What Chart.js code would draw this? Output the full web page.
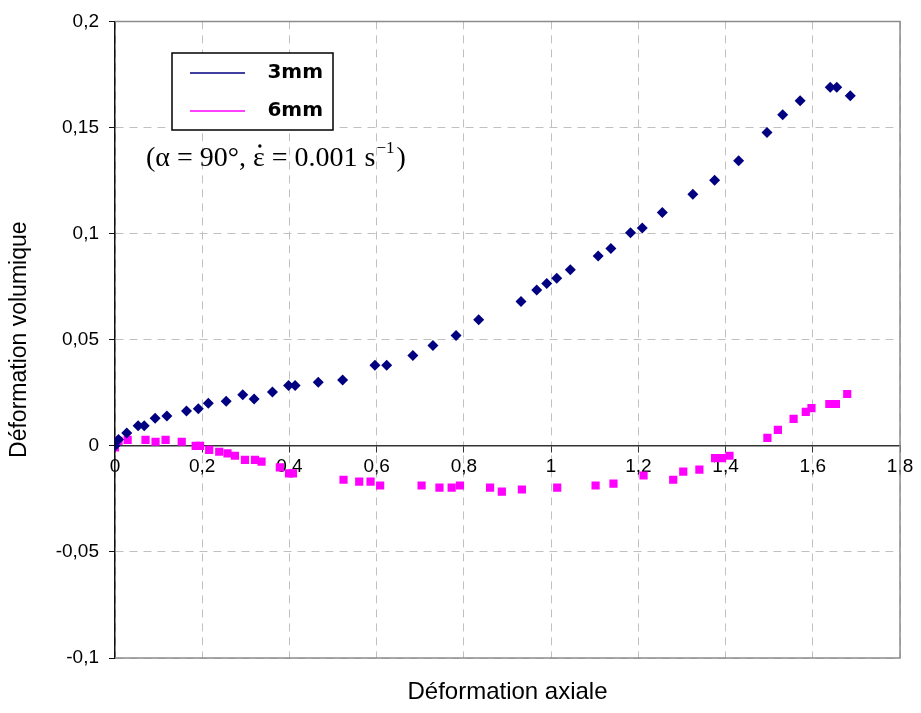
<!DOCTYPE html>
<html>
<head>
<meta charset="utf-8">
<script src="https://cdn.jsdelivr.net/npm/chart.js@4.4.0/dist/chart.umd.min.js"></script>
<style>
  html, body { margin: 0; padding: 0; background: #fff; }
  #wrap { width: 921px; height: 713px; }
</style>
</head>
<body>
<div id="wrap"><canvas id="graphe"></canvas></div>
<script>
// courbes
const nom3mm = '3mm';
const def3mmX = [0, 0.008, 0.027, 0.053, 0.067, 0.092, 0.119, 0.164, 0.191, 0.214, 0.255, 0.293, 0.319, 0.361, 0.398, 0.413,
  0.466, 0.522, 0.596, 0.623, 0.683, 0.729, 0.782, 0.834, 0.931, 0.967, 0.990, 1.013, 1.044, 1.108, 1.137, 1.182, 1.209,
  1.255, 1.325, 1.375, 1.430, 1.495, 1.531, 1.571, 1.640, 1.655, 1.686];
const def3mmY = [0, 0.003, 0.006, 0.0094, 0.0094, 0.013, 0.014, 0.0164, 0.0175, 0.020, 0.021, 0.024, 0.022, 0.0254, 0.0284, 0.0284,
  0.030, 0.031, 0.038, 0.038, 0.0426, 0.0473, 0.052, 0.0594, 0.068, 0.0734, 0.0765, 0.079, 0.083, 0.0895, 0.093, 0.1004, 0.1026,
  0.110, 0.1186, 0.1251, 0.1343, 0.1476, 0.156, 0.1626, 0.169, 0.169, 0.165];

const nom6mm = '6mm';
const def6mmX = [0, 0, 0.008, 0.029, 0.070, 0.093, 0.116, 0.153, 0.185, 0.195, 0.216, 0.239, 0.258, 0.275, 0.298, 0.321, 0.336,
  0.378, 0.399, 0.408, 0.524, 0.560, 0.586, 0.608, 0.703, 0.744, 0.772, 0.791, 0.860, 0.887, 0.933, 1.014, 1.102, 1.143,
  1.212, 1.280, 1.303, 1.340, 1.376, 1.392, 1.409, 1.496, 1.520, 1.556, 1.584, 1.597, 1.638, 1.653, 1.679];
const def6mmY = [-0.0008, 0.0015, 0.0023, 0.0028, 0.0028, 0.0019, 0.0028, 0.0019, 0, 0, -0.0019, -0.0028, -0.0036, -0.0047, -0.0066, -0.0066, -0.0075,
  -0.0102, -0.013, -0.013, -0.016, -0.0169, -0.0169, -0.0187, -0.0187, -0.0197, -0.0197, -0.0187, -0.0197, -0.0216, -0.0206, -0.0197, -0.0187, -0.0178,
  -0.014, -0.016, -0.0122, -0.0112, -0.0058, -0.0058, -0.0047, 0.0037, 0.0075, 0.0127, 0.016, 0.0178, 0.0197, 0.0197, 0.0244];

const etiquettesX = ['0', '0,2', '0,4', '0,6', '0,8', '1', '1,2', '1,4', '1,6', '1,8'];
const etiquettesY = ['-0,1', '-0,05', '0', '0,05', '0,1', '0,15', '0,2'];
const titreX = 'Déformation axiale';
const titreY = 'Déformation volumique';

const sansSerif = '"Liberation Sans", Arial, sans-serif';
const serif = '"Liberation Serif", "Times New Roman", serif';

function versPoints(xs, ys) {
    return xs.map((x, i) => ({ x: x, y: ys[i] }));
}

// cadre, légende, annotation et titre de l'axe x
const decorPlugin = {
    id: 'decor',
    beforeDatasetsDraw(chart) {
        const { ctx, chartArea: a } = chart;
        ctx.save();
        ctx.strokeStyle = '#8c8c8c';
        ctx.lineWidth = 1.5;
        ctx.beginPath();
        ctx.moveTo(a.left, a.top);
        ctx.lineTo(a.right, a.top);
        ctx.lineTo(a.right, a.bottom);
        ctx.lineTo(a.left, a.bottom);
        ctx.stroke();
        ctx.restore();
    },
    afterDraw(chart) {
        const { ctx, chartArea: a } = chart;
        ctx.save();

        // légende
        ctx.fillStyle = '#fff';
        ctx.fillRect(172, 53, 161, 77);
        ctx.strokeStyle = '#000';
        ctx.lineWidth = 1.5;
        ctx.strokeRect(172, 53, 161, 77);
        const lignes = [73, 111];
        chart.data.datasets.forEach((ds, i) => {
            ctx.strokeStyle = ds.borderColor;
            ctx.lineWidth = 1.5;
            ctx.beginPath();
            ctx.moveTo(190, lignes[i]);
            ctx.lineTo(245, lignes[i]);
            ctx.stroke();
            ctx.fillStyle = '#000';
            ctx.font = 'bold 20px "DejaVu Sans"';
            ctx.textAlign = 'right';
            ctx.textBaseline = 'middle';
            ctx.fillText(ds.label, 323, lignes[i]);
        });

        // annotation (epsilon point : le point est posé à la main au-dessus)
        ctx.fillStyle = '#000';
        ctx.textAlign = 'left';
        ctx.textBaseline = 'alphabetic';
        ctx.font = '28px ' + serif;
        let x = 146;
        const base = 166;
        const debut = '(\u03b1 = 90\u00b0, ';
        ctx.fillText(debut, x, base);
        x += ctx.measureText(debut).width;
        const largEps = ctx.measureText('\u03b5').width;
        ctx.fillText('\u03b5', x, base);
        ctx.beginPath();
        ctx.arc(x + largEps / 2 + 1, base - 20, 1.7, 0, Math.PI * 2);
        ctx.fill();
        x += largEps;
        const suite = ' = 0.001 s';
        ctx.fillText(suite, x, base);
        x += ctx.measureText(suite).width + 1;
        ctx.font = '17px ' + serif;
        ctx.fillText('\u22121', x, base - 13);
        x += ctx.measureText('\u22121').width + 2;
        ctx.font = '28px ' + serif;
        ctx.fillText(')', x, base);

        // titre axe x
        ctx.font = '24px ' + sansSerif;
        ctx.textAlign = 'center';
        ctx.textBaseline = 'middle';
        ctx.fillText(titreX, (a.left + a.right) / 2, 692);
        ctx.restore();
    }
};

const ctxGraphe = document.getElementById('graphe').getContext('2d');
const graphe = new Chart(ctxGraphe, {
    type: 'scatter',
    data: {
        datasets: [{
            label: nom3mm, data: versPoints(def3mmX, def3mmY),
            borderColor: '#000080', backgroundColor: '#000080',
            pointStyle: 'rectRot', pointRadius: 5.5, borderWidth: 0, showLine: false
        }, {
            label: nom6mm, data: versPoints(def6mmX, def6mmY),
            borderColor: '#ff00ff', backgroundColor: '#ff00ff',
            pointStyle: 'rect', pointRadius: 5.8, borderWidth: 0, showLine: false
        }]
    },
    options: {
        responsive: true, maintainAspectRatio: false, animation: false,
        layout: { padding: { left: 0, top: 17, right: 21, bottom: 55 } },
        plugins: { legend: { display: false }, tooltip: { enabled: false } },
        scales: {
            x: {
                type: 'linear', min: 0, max: 1.8,
                position: { y: 0 },
                ticks: {
                    stepSize: 0.2, padding: 4, color: '#000',
                    font: { family: sansSerif, size: 19 },
                    maxRotation: 0, autoSkip: false,
                    callback: (v, i) => etiquettesX[i]
                },
                grid: { color: '#c0c0c0', tickColor: '#333', tickLength: 6, tickBorderDash: [] },
                border: { color: '#333', width: 1.5, dash: [8, 6] }
            },
            y: {
                type: 'linear', min: -0.1, max: 0.2,
                afterFit: (scale) => { scale.width = 115; },
                ticks: {
                    stepSize: 0.05, padding: 10, color: '#000',
                    font: { family: sansSerif, size: 19 },
                    callback: (v, i) => etiquettesY[i]
                },
                title: {
                    display: true, text: titreY, color: '#000',
                    font: { family: sansSerif, size: 23 },
                    padding: { top: 6, bottom: 0 }
                },
                grid: { color: '#c0c0c0', tickColor: '#111', tickLength: 6, tickBorderDash: [] },
                border: { color: '#111', width: 1.5, dash: [8, 6] }
            }
        }
    },
    plugins: [decorPlugin]
});
</script>
</body>
</html>
